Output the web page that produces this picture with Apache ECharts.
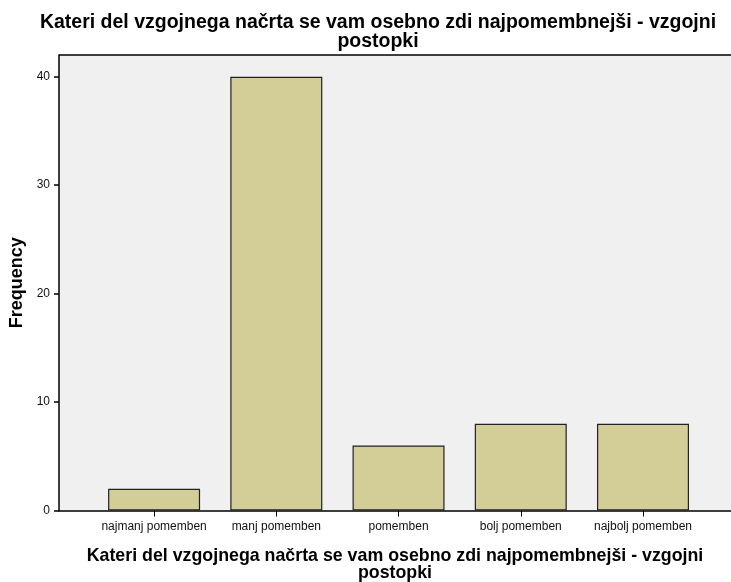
<!DOCTYPE html>
<html>
<head>
<meta charset="utf-8">
<script src="https://cdn.jsdelivr.net/npm/echarts@6/dist/echarts.min.js"></script>
<style>
  html, body { margin: 0; padding: 0; background: #ffffff; }
  #chart { width: 731px; height: 582px; }
</style>
</head>
<body>
<div id="chart"></div>
<script>
// Frequency of answers per importance level
const categories = ['najmanj pomemben', 'manj pomemben', 'pomemben', 'bolj pomemben', 'najbolj pomemben'];
const frequencies = [2, 40, 6, 8, 8];
const yTicks = [0, 10, 20, 30, 40];

const titleText = 'Kateri del vzgojnega načrta se vam osebno zdi najpomembnejši - vzgojni\npostopki';
const xAxisTitle = 'Kateri del vzgojnega načrta se vam osebno zdi najpomembnejši - vzgojni\npostopki';
const yAxisTitle = 'Frequency';

const FONT = '"Liberation Sans", Arial, sans-serif';
const positions = categories.map((_, i) => i);

const chart = echarts.init(document.getElementById('chart'), null, { renderer: 'canvas' });
chart.setOption({
  animation: false,
  backgroundColor: '#ffffff',
  title: {
    text: titleText,
    left: 373,
    top: 8,
    textAlign: 'center',
    textStyle: { fontFamily: FONT, fontSize: 19.5, fontWeight: 'bold', color: '#000', lineHeight: 19 }
  },
  grid: {
    left: 59, right: 0, top: 55, bottom: 71.5,
    containLabel: false,
    outerBoundsMode: 'none',
    show: true, backgroundColor: '#f0f0f0', borderWidth: 0
  },
  xAxis: {
    type: 'value',
    min: -0.778,
    max: 4.72,
    name: xAxisTitle,
    nameLocation: 'middle',
    nameGap: 37,
    nameTextStyle: { fontFamily: FONT, fontSize: 17.8, fontWeight: 'bold', color: '#000', lineHeight: 17 },
    axisLine: { show: true, onZero: false, lineStyle: { color: '#000', width: 1.5 } },
    axisTick: { show: true, customValues: positions, length: 6, lineStyle: { color: '#000', width: 1 } },
    axisLabel: {
      customValues: positions,
      formatter: v => categories[Math.round(v)],
      fontFamily: FONT, fontSize: 12, color: '#111', margin: 10
    },
    splitLine: { show: false }
  },
  yAxis: {
    type: 'value',
    min: 0,
    max: 42,
    name: yAxisTitle,
    nameLocation: 'middle',
    nameGap: 32,
    nameTextStyle: { fontFamily: FONT, fontSize: 18, fontWeight: 'bold', color: '#000' },
    axisLine: { show: true, onZero: false, lineStyle: { color: '#000', width: 1.5 } },
    axisTick: { show: true, customValues: yTicks, length: 5, lineStyle: { color: '#000', width: 1.5 } },
    axisLabel: {
      customValues: yTicks,
      fontFamily: FONT, fontSize: 12, color: '#111', margin: 9
    },
    splitLine: { show: false }
  },
  graphic: [{
    // top frame line of the plot area
    type: 'line',
    shape: { x1: 59, y1: 55, x2: 731, y2: 55 },
    style: { stroke: '#000', lineWidth: 1.5 },
    z: 10
  }],
  series: [{
    type: 'bar',
    data: frequencies.map((v, i) => [i, v]),
    barWidth: 92,
    itemStyle: { color: '#d3ce97', borderColor: '#222', borderWidth: 1.2 }
  }]
});
</script>
</body>
</html>
